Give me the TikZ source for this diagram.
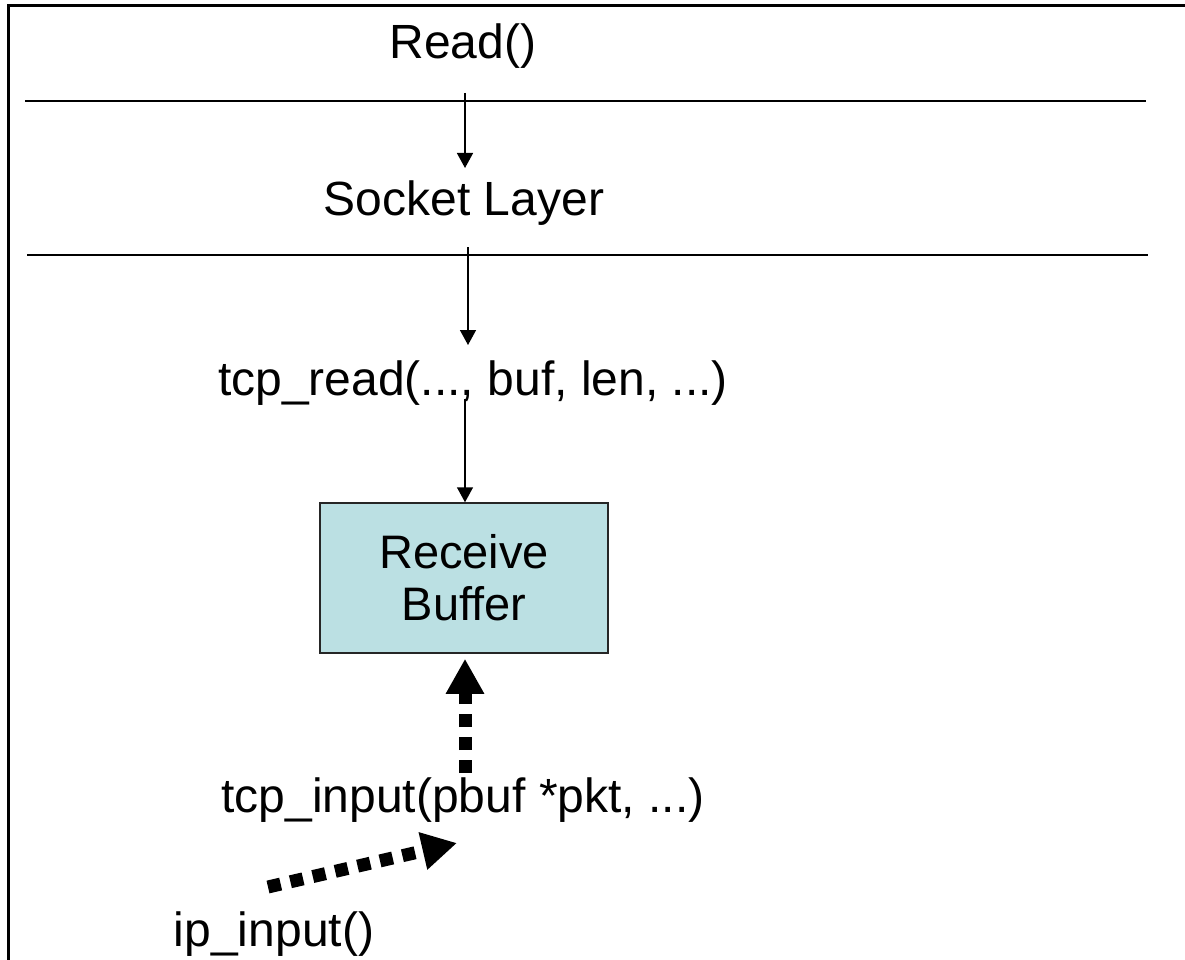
\documentclass[tikz,border=0pt]{standalone}
\usepackage{fontspec}
\setmainfont{Liberation Sans}
\usetikzlibrary{arrows.meta}
\definecolor{boxfill}{HTML}{BBE0E3}
\tikzset{
  lbl/.style={inner sep=0pt, font=\fontsize{48}{56}\selectfont},
  thinarrow/.style={line width=1.5pt, -{Triangle[length=15pt,width=16pt]}},
  dotarrow/.style={line width=13pt, dash pattern=on 13pt off 10pt, -{Triangle[length=35pt,width=36pt]}},
  layerline/.style={line width=2pt},
  bufbox/.style={draw=black!85, line width=1.5pt, fill=boxfill, minimum width=288pt, minimum height=150pt, align=center, inner sep=0pt, font=\fontsize{47}{52}\selectfont}
}
\begin{document}
\begin{tikzpicture}[x=1pt,y=-1pt]
\useasboundingbox (0,0) rectangle (1185,960);
% frame
\draw[line width=3pt] (8,960) -- (8,6) -- (1185,6);
% layer lines
\draw[layerline] (25,101) -- (1146,101);
\draw[layerline] (27,255) -- (1148,255);
% labels
\node[lbl] (read) at (463,46) {Read()};
\node[lbl] (sock) at (464,203) {Socket Layer};
\node[lbl] (tcpr) at (473,383) {tcp\_read(..., buf, len, ...)};
\node[bufbox] (buf) at (464,578) {Receive\\Buffer};
\node[lbl] (tcpi) at (463,800) {tcp\_input(pbuf *pkt, ...)};
\node[lbl] (ip) at (274,934) {ip\_input()};
% connector coordinates
\coordinate (a1s) at (465,93);
\coordinate (a1e) at (465,168);
\coordinate (a2s) at (468,247);
\coordinate (a2e) at (468,345);
\coordinate (a3s) at (465,399);
\coordinate (d1s) at (465,773);
\coordinate (d2s) at (268,887);
\coordinate (d2e) at (457,843);
% connectors
\draw[thinarrow] (a1s) -- (a1e);
\draw[thinarrow] (a2s) -- (a2e);
\draw[thinarrow] (a3s) -- (buf.north -| a3s);
\draw[dotarrow] (d1s) -- ([yshift=-5pt]buf.south -| d1s);
\draw[dotarrow] (d2s) -- (d2e);
\end{tikzpicture}
\end{document}
